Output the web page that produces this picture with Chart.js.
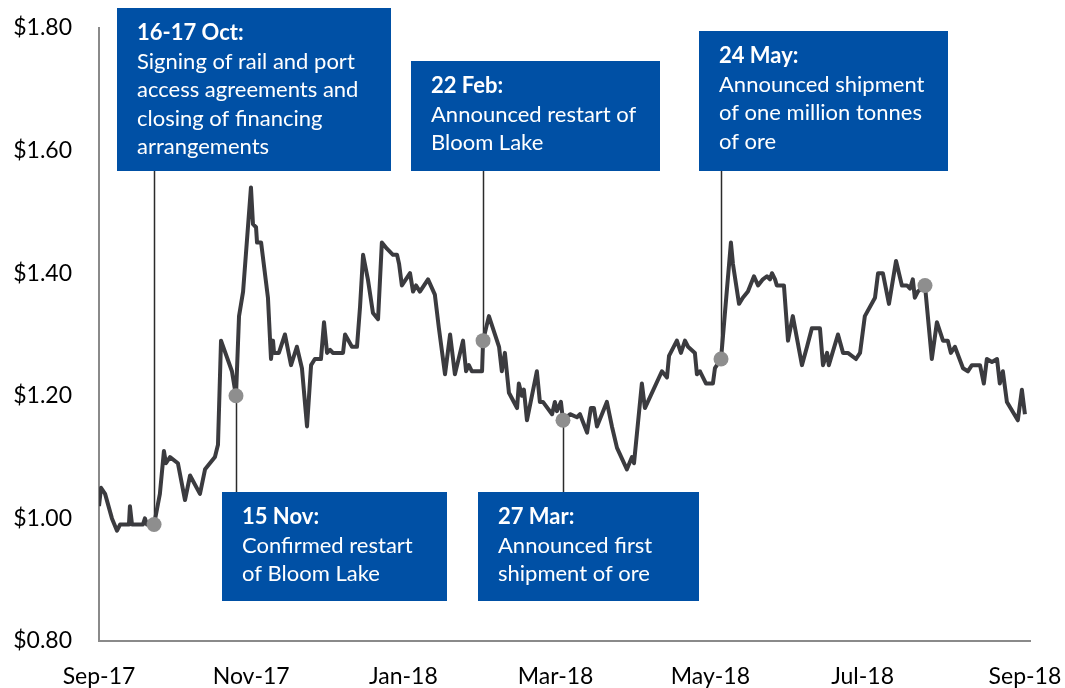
<!DOCTYPE html>
<html>
<head>
<meta charset="utf-8">
<script src="https://cdn.jsdelivr.net/npm/chart.js@4.4.1/dist/chart.umd.min.js"></script>
<style>
  html, body { margin: 0; padding: 0; background: #fff; }
  #wrap { width: 1065px; height: 688px; position: relative; }
</style>
</head>
<body>
<div id="wrap"><canvas id="priceChart"></canvas></div>
<script>
// share price, days counted from 1 Sep 2017
const days = [0, 0.8, 2.4, 5.1, 7.1, 8.3, 11.8, 12.2, 13.0, 17.3, 18.1, 18.9, 21.7, 24.0, 25.6, 26.4, 28.0, 31.1, 33.9, 35.9,
  39.8, 41.8, 45.7, 46.9, 48.1, 52.4, 54.0, 55.2, 56.8, 59.9, 60.7, 61.9, 62.3, 63.9, 66.6, 67.8, 68.6, 69.0, 70.9, 73.3,
  75.7, 78.0, 80.0, 82.0, 83.6, 85.1, 87.5, 88.7, 89.9, 91.1, 92.2, 96.2, 97.0, 99.7, 101.7, 102.9, 104.1, 106.0, 108.0, 110.0,
  111.5, 113.5, 115.9, 117.5, 118.3, 119.4, 122.6, 123.8, 125.0, 126.5, 129.7, 132.4, 134.0, 136.4, 138.4, 140.3, 143.5, 144.7, 145.8, 147.0,
  151.0, 151.4, 153.7, 157.7, 158.8, 160.0, 161.6, 164.8, 165.5, 166.7, 167.5, 168.7, 172.6, 173.8, 175.0, 178.6, 179.7, 180.5, 182.1, 182.9,
  185.7, 188.4, 189.6, 192.4, 193.9, 195.1, 196.3, 200.2, 202.2, 204.2, 208.1, 210.1, 210.9, 214.0, 215.2, 221.9, 223.9, 224.7, 227.8, 229.4,
  231.0, 232.2, 234.9, 235.7, 236.9, 239.3, 242.0, 242.8, 245.2, 249.1, 249.9, 252.3, 253.8, 255.8, 258.2, 259.8, 261.7, 263.3, 264.5, 265.3,
  266.5, 267.2, 270.0, 271.6, 273.5, 277.1, 279.1, 281.0, 284.2, 285.4, 287.0, 287.7, 291.3, 293.3, 295.2, 298.4, 300.0, 301.9, 305.9, 307.1,
  309.0, 311.4, 314.2, 316.5, 318.5, 319.7, 320.8, 321.6, 322.8, 325.6, 328.3, 330.3, 332.7, 334.6, 335.8, 337.4, 340.6, 342.5, 344.1, 347.3,
  348.8, 350.0, 352.0, 354.0, 355.1, 356.3, 357.9, 362.2, 363.8, 365.0];
const prices = [1.02, 1.05, 1.04, 1.00, 0.98, 0.99, 0.99, 1.02, 0.99, 0.99, 1.00, 0.99, 0.99, 1.04, 1.11, 1.09, 1.10, 1.09, 1.03, 1.07,
  1.04, 1.08, 1.10, 1.12, 1.29, 1.24, 1.20, 1.33, 1.37, 1.54, 1.48, 1.475, 1.45, 1.45, 1.36, 1.26, 1.29, 1.27, 1.27, 1.30,
  1.25, 1.28, 1.245, 1.15, 1.25, 1.26, 1.26, 1.32, 1.27, 1.275, 1.27, 1.27, 1.30, 1.28, 1.28, 1.345, 1.43, 1.39, 1.335, 1.325,
  1.45, 1.44, 1.43, 1.43, 1.415, 1.38, 1.40, 1.37, 1.38, 1.37, 1.39, 1.365, 1.31, 1.235, 1.30, 1.235, 1.29, 1.24, 1.25, 1.24,
  1.24, 1.29, 1.33, 1.28, 1.24, 1.27, 1.205, 1.18, 1.22, 1.20, 1.21, 1.16, 1.24, 1.19, 1.19, 1.17, 1.19, 1.175, 1.19, 1.16,
  1.17, 1.165, 1.17, 1.14, 1.18, 1.18, 1.15, 1.19, 1.15, 1.115, 1.08, 1.10, 1.09, 1.22, 1.18, 1.24, 1.23, 1.265, 1.29, 1.27,
  1.29, 1.28, 1.27, 1.235, 1.24, 1.22, 1.22, 1.245, 1.26, 1.45, 1.415, 1.35, 1.36, 1.37, 1.395, 1.38, 1.39, 1.395, 1.39, 1.40,
  1.39, 1.38, 1.38, 1.29, 1.33, 1.25, 1.28, 1.31, 1.31, 1.25, 1.27, 1.25, 1.30, 1.27, 1.27, 1.26, 1.27, 1.33, 1.36, 1.40,
  1.40, 1.35, 1.42, 1.38, 1.38, 1.375, 1.39, 1.36, 1.37, 1.38, 1.26, 1.32, 1.29, 1.29, 1.27, 1.28, 1.245, 1.24, 1.25, 1.25,
  1.22, 1.26, 1.255, 1.26, 1.22, 1.24, 1.19, 1.16, 1.21, 1.17];

// x axis ticks
const tickDays = [0, 60, 120, 180, 241, 301, 365];
const tickLabels = ["Sep-17", "Nov-17", "Jan-18", "Mar-18", "May-18", "Jul-18", "Sep-18"];

// events (gray dots)
const eventDays = [21.7, 54.0, 151.4, 182.9, 245.2, 325.6];
const eventPrices = [0.99, 1.20, 1.29, 1.16, 1.26, 1.38];
const eventTitles = ["16-17 Oct:", "15 Nov:", "22 Feb:", "27 Mar:", "24 May:", null];
const eventTexts = [
  ["Signing of rail and port", "access agreements and", "closing of financing", "arrangements"],
  ["Confirmed restart", "of Bloom Lake"],
  ["Announced restart of", "Bloom Lake"],
  ["Announced first", "shipment of ore"],
  ["Announced shipment", "of one million tonnes", "of ore"],
  null
];

// box layout (px) for the callouts
const boxes = [
  { x: 117, y: 8, w: 274, h: 163 },
  { x: 222, y: 492, w: 225, h: 109 },
  { x: 411, y: 61, w: 249, h: 110 },
  { x: 478, y: 492, w: 221, h: 109 },
  { x: 699, y: 31, w: 249, h: 140 },
  null
];

const FONT = "Lato, 'Open Sans', sans-serif";
const BOX_BLUE = "#0050a5";

const calloutPlugin = {
  id: "callouts",
  beforeDatasetsDraw(chart) {
    const ctx = chart.ctx;
    const xs = chart.scales.x, ys = chart.scales.y;
    ctx.save();
    ctx.strokeStyle = "#2b2b2b";
    ctx.lineWidth = 1.5;
    boxes.forEach((b, i) => {
      if (!b) return;
      const px = xs.getPixelForValue(eventDays[i]);
      const py = ys.getPixelForValue(eventPrices[i]);
      const by = b.y > py ? b.y : b.y + b.h;
      ctx.beginPath();
      ctx.moveTo(Math.round(px) + 0.5, by);
      ctx.lineTo(Math.round(px) + 0.5, py);
      ctx.stroke();
    });
    ctx.restore();
  },
  afterDatasetsDraw(chart) {
    const ctx = chart.ctx;
    ctx.save();
    boxes.forEach((b, i) => {
      if (!b) return;
      ctx.fillStyle = BOX_BLUE;
      ctx.fillRect(b.x, b.y, b.w, b.h);
      ctx.fillStyle = "#ffffff";
      ctx.textBaseline = "middle";
      ctx.textAlign = "left";
      let ty = b.y + 25;
      ctx.font = "bold 22px " + FONT;
      ctx.fillText(eventTitles[i], b.x + 20, ty);
      ctx.font = "22px " + FONT;
      eventTexts[i].forEach(line => {
        ty += 28.6;
        ctx.fillText(line, b.x + 20, ty);
      });
    });
    ctx.restore();
  }
};

const ctx = document.getElementById("priceChart").getContext("2d");
new Chart(ctx, {
  type: "scatter",
  data: {
    datasets: [
      {
        label: "Events",
        data: eventDays.map((d, i) => ({ x: d, y: eventPrices[i] })),
        pointRadius: 7.5,
        pointBackgroundColor: "#8e8e8e",
        pointBorderWidth: 0,
        showLine: false,
        order: 0
      },
      {
        label: "Share price",
        data: days.map((d, i) => ({ x: d, y: prices[i] })),
        showLine: true,
        borderColor: "#3b3b3f",
        borderWidth: 4,
        borderJoinStyle: "round",
        pointRadius: 0,
        tension: 0,
        order: 1
      }
    ]
  },
  options: {
    responsive: true,
    maintainAspectRatio: false,
    animation: false,
    events: [],
    layout: { autoPadding: false, padding: { left: 0, top: 28, right: 35, bottom: 0 } },
    plugins: {
      legend: { display: false },
      tooltip: { enabled: false }
    },
    scales: {
      x: {
        type: "linear",
        min: 0,
        max: 367,
        afterBuildTicks: axis => { axis.ticks = tickDays.map(v => ({ value: v })); },
        afterFit: axis => {
          axis.height = 47;
          axis.paddingLeft = 0; axis.paddingRight = 0;
        },
        grid: { display: false, drawTicks: false },
        border: { display: true, color: "#8a8a8a", width: 2 },
        ticks: {
          autoSkip: false,
          maxRotation: 0,
          padding: 22,
          color: "#000",
          font: { family: FONT, size: 23 },
          callback: (v) => tickLabels[tickDays.indexOf(v)]
        }
      },
      y: {
        min: 0.8,
        max: 1.8,
        afterFit: axis => {
          axis.width = 99;
          axis.paddingTop = 0; axis.paddingBottom = 0;
        },
        grid: { display: false, drawTicks: false },
        border: { display: true, color: "#8a8a8a", width: 2 },
        ticks: {
          stepSize: 0.2,
          padding: 27,
          color: "#000",
          font: { family: FONT, size: 23 },
          callback: v => "$" + Number(v).toFixed(2)
        }
      }
    }
  },
  plugins: [calloutPlugin]
});
</script>
</body>
</html>
